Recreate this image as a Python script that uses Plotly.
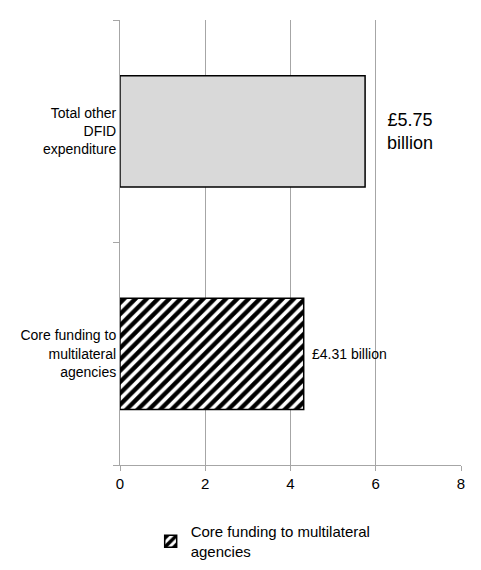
import plotly.graph_objects as go

categories = ["Core funding to<br>multilateral<br>agencies", "Total other<br>DFID<br>expenditure"]
core_values = [4.31, None]
other_values = [None, 5.75]
labels = ["£4.31 billion", "£5.75<br>billion"]
x_ticks = [0, 2, 4, 6, 8]

fig = go.Figure()
fig.add_trace(go.Bar(y=categories, x=other_values, orientation="h", width=0.5,
                     marker=dict(color="#d9d9d9", line=dict(color="black", width=1.5)),
                     showlegend=False, name="Total other DFID expenditure"))
fig.add_trace(go.Bar(y=categories, x=core_values, orientation="h", width=0.5,
                     marker=dict(color="white", line=dict(color="black", width=1.5),
                                 pattern=dict(shape="/", fgcolor="black", bgcolor="white",
                                              fgopacity=1, size=8, solidity=0.55)),
                     name="Core funding to multilateral<br>agencies"))
fig.add_annotation(x=core_values[0], y=categories[0], text=labels[0], xanchor="left",
                   xshift=6, showarrow=False, font=dict(size=14))
fig.add_annotation(x=6.8, y=categories[1], text=labels[1], xanchor="center",
                   showarrow=False, font=dict(size=18))
fig.update_layout(
    width=481, height=570, margin=dict(l=112, r=28, t=12, b=113),
    plot_bgcolor="white", paper_bgcolor="white", barmode="overlay",
    font=dict(family="Liberation Sans, Arial", color="black", size=14),
    xaxis=dict(range=[0, 8], tickvals=x_ticks, showgrid=True, gridcolor="#a6a6a6",
               gridwidth=1, ticks="outside", tickcolor="#a6a6a6", ticklen=5,
               showline=True, linecolor="#a6a6a6", zeroline=False, fixedrange=True,
               tickfont=dict(size=15)),
    yaxis=dict(showline=True, linecolor="#a6a6a6", ticks="outside", tickson="boundaries",
               tickcolor="#a6a6a6", ticklen=6, tickfont=dict(size=14)),
    legend=dict(orientation="h", x=0.09, xanchor="left", yref="container", y=0.11,
                yanchor="top", font=dict(size=15), itemwidth=30),
)
fig.write_html("out.html")
